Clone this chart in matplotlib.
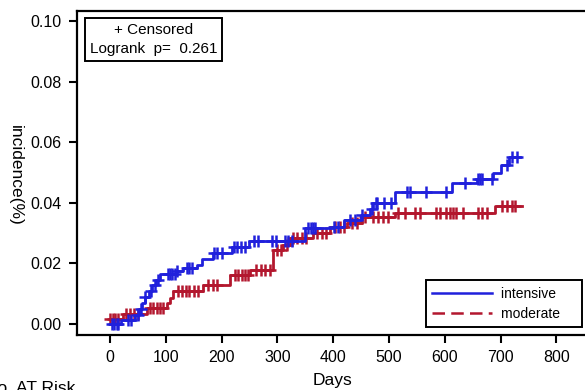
import matplotlib.pyplot as plt
import numpy as np
from matplotlib.lines import Line2D

plt.rcParams['font.family'] = ['Liberation Sans', 'DejaVu Sans']

# cumulative incidence step curves: event day -> value after event
intensive_days = [0, 20, 45, 52, 57, 62, 70, 76, 82, 90, 118, 131, 156, 165, 185,
                  218, 250, 350, 400, 420, 450, 466, 472, 511, 613, 657, 686, 700, 715]
intensive_vals = [0.0, 0.0013, 0.003, 0.005, 0.007, 0.009, 0.011, 0.013, 0.0145, 0.0165,
                  0.0175, 0.0185, 0.0195, 0.0215, 0.0235, 0.0254, 0.0274, 0.0317, 0.032,
                  0.0343, 0.036, 0.038, 0.040, 0.0436, 0.0465, 0.048, 0.050, 0.0525, 0.055]
intensive_end = 735
intensive_cens = [3, 8, 12, 15, 32, 38, 50, 56, 62, 74, 80, 86, 104, 108, 112, 116, 120,
                  138, 142, 147, 187, 192, 200, 222, 228, 235, 242, 258, 266, 290, 297,
                  313, 320, 327, 355, 360, 364, 368, 402, 408, 430, 440, 452, 470, 476,
                  479, 491, 503, 532, 538, 566, 603, 636, 660, 664, 667, 685, 711, 720, 729]

moderate_days = [0, 24, 66, 102, 107, 113, 167, 215, 251, 292, 310, 322, 364, 394,
                 425, 451, 511, 690]
moderate_vals = [0.0017, 0.0033, 0.0053, 0.007, 0.0086, 0.011, 0.0128, 0.0163, 0.0178,
                 0.0244, 0.026, 0.0284, 0.030, 0.032, 0.0333, 0.0353, 0.0366, 0.0388]
moderate_end = 738
moderate_cens = [0, 5, 10, 15, 28, 36, 44, 50, 72, 78, 84, 90, 96, 122, 130, 136, 142,
                 150, 158, 176, 184, 192, 224, 230, 236, 242, 248, 262, 270, 278, 286,
                 300, 306, 318, 328, 336, 345, 352, 372, 380, 388, 404, 412, 420, 434,
                 442, 458, 472, 481, 490, 499, 517, 529, 547, 556, 585, 591, 603, 609,
                 615, 621, 633, 660, 666, 675, 702, 711, 720, 726]

xticks = [0, 100, 200, 300, 400, 500, 600, 700, 800]
yticks = [0.00, 0.02, 0.04, 0.06, 0.08, 0.10]

blue = '#2020dc'
red = '#b3172e'

fig = plt.figure(figsize=(5.85, 3.9), dpi=100)
ax = fig.add_axes([0.1316, 0.141, 0.8957, 0.8308])


def draw(days, vals, end, cens, color):
    d = np.array(days + [end])
    v = np.array(vals + [vals[-1]])
    ax.step(d, v, where='post', color=color, lw=2)
    c = np.array(cens)
    idx = np.searchsorted(np.array(days), c, side='right') - 1
    ax.plot(c, np.array(vals)[idx], ls='none', marker='+', color=color, ms=8.5, mew=1.8)


draw(moderate_days, moderate_vals, moderate_end, moderate_cens, red)
draw(intensive_days, intensive_vals, intensive_end, intensive_cens, blue)

ax.set_xlim(-59, 880)
ax.set_ylim(-0.0036, 0.1033)
ax.set_xticks(xticks)
ax.set_yticks(yticks)
ax.set_yticklabels([f'{t:.2f}' for t in yticks])
ax.tick_params(axis='both', direction='out', length=6, width=1.5, labelsize=11.5)
ax.tick_params(axis='x', pad=5)
ax.tick_params(axis='y', pad=5)
for s in ax.spines.values():
    s.set_linewidth(1.6)

fig.text(153.5 / 585, 1 - 23 / 390, '+ Censored\nLogrank  p=  0.261',
         ha='center', va='top', multialignment='center', fontsize=11, linespacing=1.45,
         bbox=dict(boxstyle='square,pad=0.32', fc='white', ec='black', lw=1.4))

handles = [Line2D([], [], color=blue, lw=1.8),
           Line2D([], [], color=red, lw=1.8, ls=(0, (5, 2.5)))]
leg = ax.legend(handles, ['intensive    ', 'moderate    '], loc='lower right',
                bbox_to_anchor=(0.995, 0.1615), bbox_transform=fig.transFigure,
                borderaxespad=0, fontsize=10, handlelength=4.3, fancybox=False,
                framealpha=1, borderpad=0.45, labelspacing=0.45, handletextpad=0.7)
leg.get_frame().set_edgecolor('black')
leg.get_frame().set_linewidth(1.4)

fig.text(0.026, 0.551, 'incidence(%)', rotation=270, ha='center', va='center', fontsize=12.5)
fig.text(333 / 585, 1 - 381 / 390, 'Days', ha='center', va='center', fontsize=12.5)
fig.text(-0.026, 0.023, 'No. AT Risk', ha='left', va='top', fontsize=12.5)

fig.savefig('out.png', dpi=100)
